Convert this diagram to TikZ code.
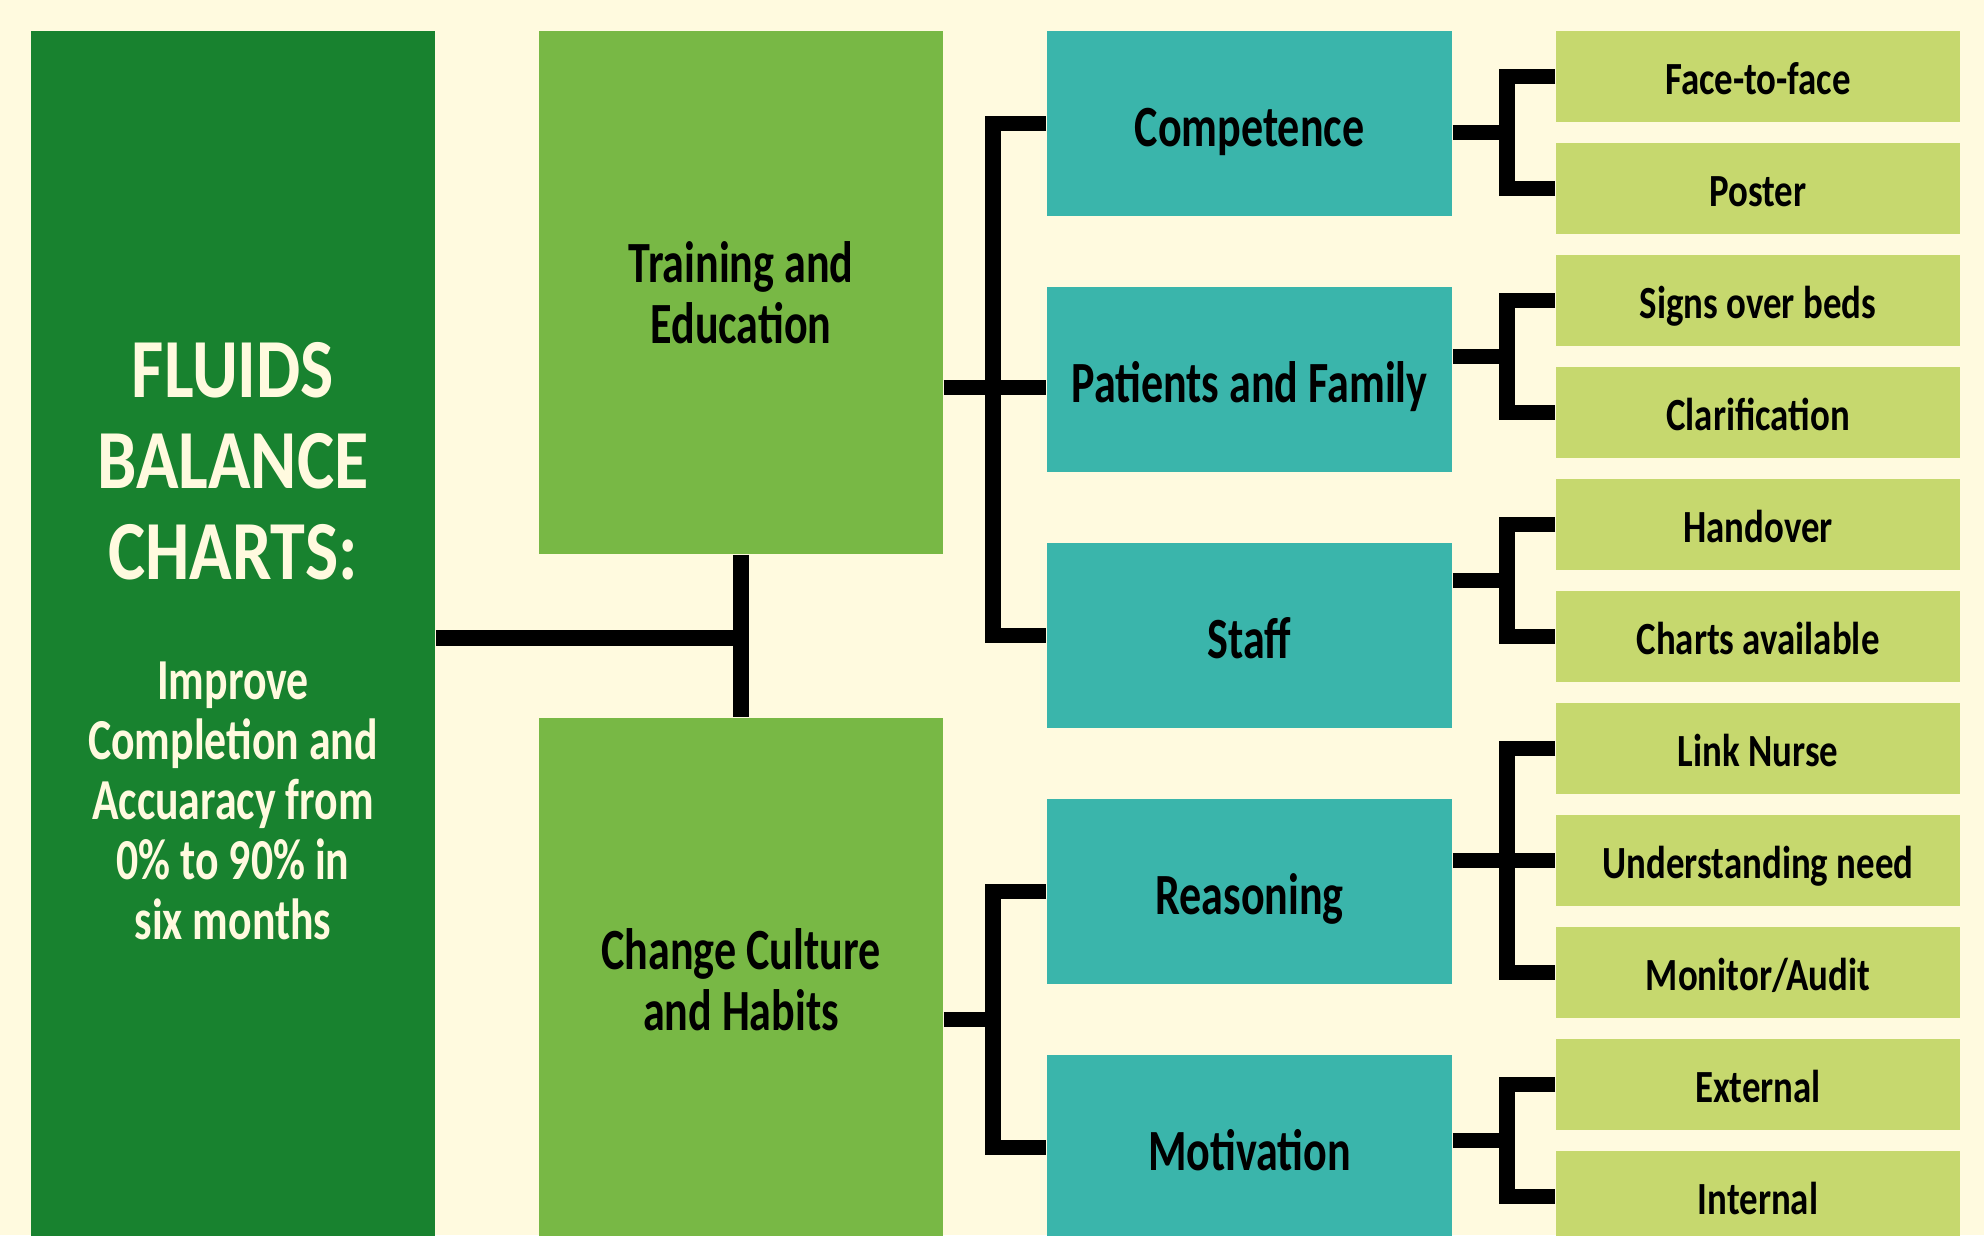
\documentclass[tikz,border=0pt]{standalone}
\usepackage{fontspec}
\usepackage{tikz}
\usetikzlibrary{calc}
\newfontfamily\boxfont{Carlito}[FakeStretch=0.755]
\newfontfamily\leaffont{Carlito}[FakeStretch=0.8]
\newfontfamily\titlefont{Carlito}[FakeStretch=0.835]

\definecolor{bgcream}{HTML}{FFFADF}
\definecolor{goalgreen}{HTML}{18822F}
\definecolor{stepgreen}{HTML}{78B845}
\definecolor{areateal}{HTML}{3AB5AB}
\definecolor{leafgreen}{HTML}{C6D86E}

\begin{document}
\begin{tikzpicture}[x=0.01cm, y=-0.01cm,
		goalbox/.style={fill=goalgreen, minimum width=4.04cm, minimum height=12.14cm, inner sep=0pt},
		stepbox/.style={fill=stepgreen, minimum width=4.04cm, minimum height=5.23cm, inner sep=0pt, align=center,
			font=\boxfont\bfseries\fontsize{16.6}{17.2}\selectfont},
		areabox/.style={fill=areateal, minimum width=4.05cm, minimum height=1.85cm, inner sep=0pt,
			text height=15.8pt, text depth=2.8pt, font=\boxfont\bfseries\fontsize{16.6}{17.2}\selectfont},
		leafbox/.style={fill=leafgreen, minimum width=4.04cm, minimum height=0.91cm, inner sep=0pt,
			text height=12.4pt, text depth=2.2pt, font=\leaffont\bfseries\fontsize{13.1}{15}\selectfont},
		conn/.style={line width=4.3pt, line join=miter}]
			\useasboundingbox (0, 0) rectangle (1984, 1235);
			\fill[bgcream] (0, 0) rectangle (1984, 1235);
			\clip (0, 0) rectangle (1984, 1235);
			
			% goal
			\node[goalbox] (goal) at (233, 638) {};
			\node[align=center, inner sep=0pt, text=bgcream, font=\titlefont\bfseries\fontsize{23.9}{25.9}\selectfont] (goaltitle) at (233, 461) {FLUIDS\\BALANCE\\CHARTS:};
			\node[align=center, inner sep=0pt, text=bgcream, font=\boxfont\bfseries\fontsize{16.5}{17.1}\selectfont] (goaltext) at (233, 801) {Improve\\Completion and\\Accuaracy from\\0\% to 90\% in\\six months};
			
			% drivers
			\node[stepbox] (train) at (741, 292.5) {Training and\\Education};
			\node[stepbox] (change) at (741, 979.5) {Change Culture\\and Habits};
			
			% areas
			\node[areabox] (comp) at (1249.5, 123.5) {Competence};
			\node[areabox] (family) at (1249.5, 379.5) {Patients and Family};
			\node[areabox] (staff) at (1249.5, 635.5) {Staff};
			\node[areabox] (reason) at (1249.5, 891.5) {Reasoning};
			\node[areabox] (motiv) at (1249.5, 1147.5) {Motivation};
			
			% actions
			\node[leafbox] (f2f) at (1758, 76.5) {Face-to-face};
			\node[leafbox] (poster) at (1758, 188.5) {Poster};
			\node[leafbox] (signs) at (1758, 300.5) {Signs over beds};
			\node[leafbox] (clarif) at (1758, 412.5) {Clarification};
			\node[leafbox] (handover) at (1758, 524.5) {Handover};
			\node[leafbox] (charts) at (1758, 636.5) {Charts available};
			\node[leafbox] (linknurse) at (1758, 748.5) {Link Nurse};
			\node[leafbox] (underst) at (1758, 860.5) {Understanding need};
			\node[leafbox] (monitor) at (1758, 972.5) {Monitor/Audit};
			\node[leafbox] (extern) at (1758, 1084.5) {External};
			\node[leafbox] (intern) at (1758, 1196.5) {Internal};
			
			\coordinate (lbus) at (993, 0);
			\coordinate (rbus) at (1507, 0);
			
			% goal to drivers
			\draw[conn] (goal.east) -- (goal.east -| train.south);
			\draw[conn] (train.south) -- (change.north);
			
			% drivers to areas
			\draw[conn] (comp.west) -- (comp.west -| lbus) -- (staff.west -| lbus) -- (staff.west);
			\coordinate (tmid) at ($(family.west)+(0, 8)$);
			\draw[conn] (tmid -| train.east) -- (tmid);
			\coordinate (cmid) at ($(reason.west)!0.5!(motiv.west)$);
			\draw[conn] (reason.west) -- (reason.west -| lbus) -- (motiv.west -| lbus) -- (motiv.west);
			\draw[conn] (cmid -| change.east) -- (cmid -| lbus);
			
			% areas to actions
			\coordinate (m1) at ($(f2f.west)!0.5!(poster.west)$);
			\draw[conn] (f2f.west) -- (f2f.west -| rbus) -- (poster.west -| rbus) -- (poster.west);
			\draw[conn] (m1 -| comp.east) -- (m1 -| rbus);
			\coordinate (m2) at ($(signs.west)!0.5!(clarif.west)$);
			\draw[conn] (signs.west) -- (signs.west -| rbus) -- (clarif.west -| rbus) -- (clarif.west);
			\draw[conn] (m2 -| family.east) -- (m2 -| rbus);
			\coordinate (m3) at ($(handover.west)!0.5!(charts.west)$);
			\draw[conn] (handover.west) -- (handover.west -| rbus) -- (charts.west -| rbus) -- (charts.west);
			\draw[conn] (m3 -| staff.east) -- (m3 -| rbus);
			\draw[conn] (linknurse.west) -- (linknurse.west -| rbus) -- (monitor.west -| rbus) -- (monitor.west);
			\draw[conn] (reason.east |- underst.west) -- (underst.west);
			\coordinate (m5) at ($(extern.west)!0.5!(intern.west)$);
			\draw[conn] (extern.west) -- (extern.west -| rbus) -- (intern.west -| rbus) -- (intern.west);
			\draw[conn] (m5 -| motiv.east) -- (m5 -| rbus);
		\end{tikzpicture}
\end{document}
